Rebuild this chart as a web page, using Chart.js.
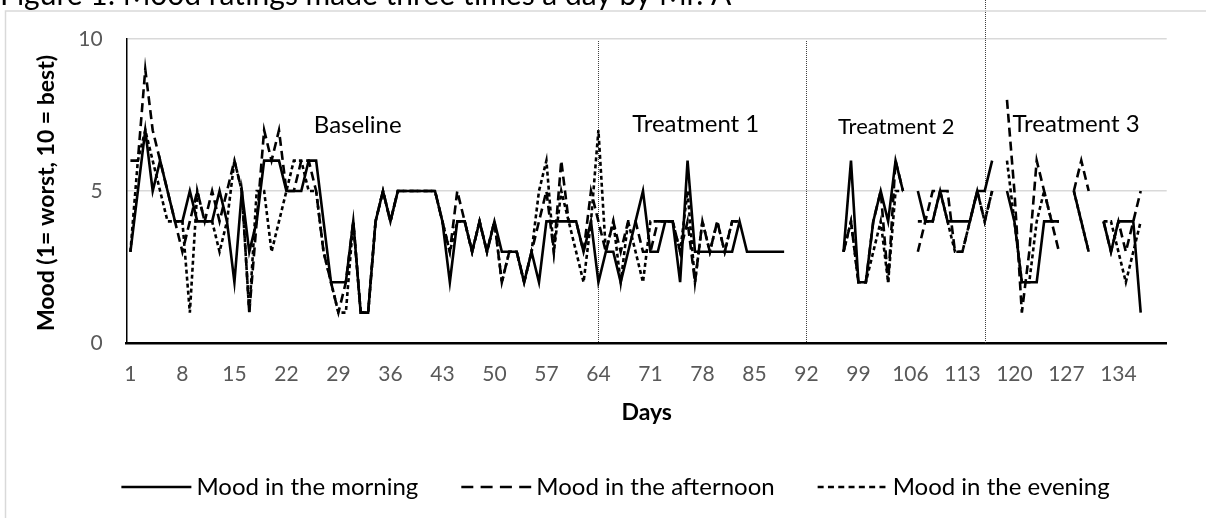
<!DOCTYPE html>
<html>
<head>
<meta charset="utf-8">
<script src="https://cdn.jsdelivr.net/npm/chart.js@4.4.1/dist/chart.umd.min.js"></script>
<style>
  html, body { margin: 0; padding: 0; background: #fff; }
  #wrap { width: 1206px; height: 518px; position: relative; }
</style>
</head>
<body>
<div id="wrap"><canvas id="c" width="1206" height="518"></canvas></div>
<script>
// Day numbers on the category axis (days 1-140)
const days = [];
for (let d = 1; d <= 140; d++) days.push(String(d));

// Days that carry a tick label
const tickDays = [1, 8, 15, 22, 29, 36, 43, 50, 57, 64, 71, 78, 85, 92, 99, 106, 113, 120, 127, 134];

// Days on which a new phase starts (dotted separators)
const phaseStarts = [64, 92, 116];
const phaseNames = ['Baseline', 'Treatment 1', 'Treatment 2', 'Treatment 3'];

// Mood ratings (1 = worst, 10 = best); null = not rated
const moodMorning = [
  3, 5, 7, 5, 6, 5, 4, 4, 5, 4,      // 1-10
  4, 4, 5, 4, 2, 5, 3, 4, 6, 6,      // 11-20
  6, 5, 5, 5, 6, 6, 4, 2, 2, 2,      // 21-30
  4, 1, 1, 4, 5, 4, 5, 5, 5, 5,      // 31-40
  5, 5, 4, 2, 4, 4, 3, 4, 3, 4,      // 41-50
  3, 3, 3, 2, 3, 2, 4, 4, 4, 4,      // 51-60
  4, 3, 4, 2, 3, 3, 2, 3, 4, 5,      // 61-70
  3, 3, 4, 4, 2, 6, 3, 3, 3, 3,      // 71-80
  3, 3, 4, 3, 3, 3, 3, 3, 3, null,   // 81-90
  null, null, null, null, null, null, 3, 6, 2, 2,   // 91-100
  4, 5, 4, 6, 5, null, 5, 4, 4, 5,   // 101-110
  4, 4, 4, 4, 5, 5, 6, null, 5, 4,   // 111-120
  2, 2, 2, 4, 4, 4, null, 5, 4, 3,   // 121-130
  null, 4, 3, 4, 4, 4, 1, null, null, null  // 131-140
];

const moodAfternoon = [
  6, 6, 9, 7, 6, 5, 4, 3, 4, 5,
  4, 5, 4, 5, 6, 5, 1, 4, 7, 6,
  7, 5, 5, 6, 6, 5, 3, 2, 1, 2,
  4, 1, 1, 4, 5, 4, 5, 5, 5, 5,
  5, 5, 4, 3, 5, 4, 3, 4, 3, 4,
  2, 3, 3, 2, 3, 4, 5, 3, 6, 4,
  4, 3, 5, 4, 3, 4, 3, 4, 4, 3,
  3, 4, 4, 4, 3, 4, 2, 4, 3, 4,
  3, 4, 4, null, null, null, null, null, null, null,
  null, null, null, null, null, null, 3, 4, 2, 2,
  4, 5, 2, 6, 5, null, 3, 4, 5, 5,
  5, 3, 3, 4, 5, 4, 5, null, 8, 5,
  1, 3, 6, 5, 4, 3, null, 5, 6, 5,
  null, 4, 3, 4, 3, 4, 5, null, null, null
];

const moodEvening = [
  3, 6, 7, 6, 5, 4, 4, 4, 1, 5,
  4, 4, 3, 4, 6, 5, 1, 5, 5, 3,
  4, 5, 6, 6, 5, 5, 3, 2, 1, 1,
  4, 1, 1, 4, 5, 4, 5, 5, 5, 5,
  5, 5, 4, 3, 4, 4, 3, 4, 3, 4,
  2, 3, 3, 2, 3, 5, 6, 3, 5, 4,
  3, 2, 4, 7, 3, 4, 2, 4, 3, 2,
  4, 4, 4, 4, 3, 5, 2, 4, 3, 4,
  3, 4, 4, null, null, null, null, null, null, null,
  null, null, null, null, null, null, 3, 4, 2, 2,
  3, 4, 2, 5, 5, null, 4, 4, 4, 5,
  4, 3, 3, 4, 5, 4, 5, null, 6, 4,
  2, 2, 4, 5, 4, 4, null, 5, 4, 3,
  null, 4, 4, 3, 2, 3, 4, null, null, null
];

const seriesLabels = ['Mood in the morning', 'Mood in the afternoon', 'Mood in the evening'];

const FONT = 'Lato, "Open Sans", sans-serif';
const TICK_GREY = '#595959';

// Where the phase captions sit, in (day, mood) coordinates
const phaseCaptionAt = [
  { day: 31.6, mood: 6.9, size: 24 },
  { day: 77.1, mood: 6.95, size: 24 },
  { day: 104.1, mood: 6.88, size: 22 },
  { day: 128.3, mood: 6.95, size: 24 }
];

const decorations = {
  id: 'decorations',
  beforeDatasetsDraw(chart) {
    const { ctx, chartArea, scales: { x } } = chart;
    ctx.save();
    ctx.strokeStyle = '#404040';
    ctx.lineWidth = 1;
    ctx.setLineDash([1, 1]);
    phaseStarts.forEach((d, i) => {
      const px = Math.round(x.getPixelForValue(d - 1)) + 0.5;
      // the last separator runs up through the top margin
      const top = i === phaseStarts.length - 1 ? 0 : chartArea.top + 2;
      ctx.beginPath();
      ctx.moveTo(px, top);
      ctx.lineTo(px, chartArea.bottom);
      ctx.stroke();
    });
    ctx.restore();
  },
  afterDraw(chart) {
    const { ctx, chartArea, scales: { x, y } } = chart;
    ctx.save();

    // outer frame (top and left edges)
    ctx.strokeStyle = '#d9d9d9';
    ctx.lineWidth = 1.5;
    ctx.beginPath();
    ctx.moveTo(5.5, 518);
    ctx.lineTo(5.5, 11);
    ctx.lineTo(1206, 11);
    ctx.stroke();

    // figure caption
    ctx.fillStyle = '#000';
    ctx.font = '30px ' + FONT;
    ctx.textAlign = 'left';
    ctx.textBaseline = 'alphabetic';
    ctx.fillText('Figure 1: Mood ratings made three times a day by Mr. A', 0, 5);

    // phase captions
    phaseNames.forEach((name, i) => {
      const a = phaseCaptionAt[i];
      const px = x.getPixelForValue(a.day - 1);
      const py = y.getPixelForValue(a.mood);
      ctx.font = a.size + 'px ' + FONT;
      ctx.fillStyle = '#000';
      ctx.textAlign = 'center';
      ctx.textBaseline = 'alphabetic';
      ctx.fillText(name, px, py);
    });

    // axis titles
    ctx.fillStyle = '#000';
    ctx.font = 'bold 23px ' + FONT;
    ctx.textAlign = 'center';
    ctx.textBaseline = 'middle';
    ctx.fillText('Days', (chartArea.left + chartArea.right) / 2, 413);
    ctx.save();
    ctx.translate(47, (chartArea.top + chartArea.bottom) / 2 + 2);
    ctx.rotate(-Math.PI / 2);
    ctx.fillText('Mood (1= worst, 10 = best)', 0, 0);
    ctx.restore();

    // legend, centred under the frame
    const legendY = 487;
    const sampleLen = 70, textGap = 5, itemGap = 43;
    ctx.font = '24px ' + FONT;
    const widths = chart.data.datasets.map(ds => ctx.measureText(ds.label).width);
    const total = widths.reduce((s, w) => s + w, 0) + 3 * (sampleLen + textGap) + 2 * itemGap;
    let lx = 615.5 - total / 2;
    chart.data.datasets.forEach((ds, i) => {
      ctx.strokeStyle = '#000';
      ctx.lineWidth = 2.5;
      ctx.setLineDash(ds.borderDash ? (i === 1 ? [12, 7.3] : [6, 4.3]) : []);
      ctx.beginPath();
      ctx.moveTo(lx, legendY);
      ctx.lineTo(lx + sampleLen, legendY);
      ctx.stroke();
      ctx.setLineDash([]);
      lx += sampleLen + textGap;
      ctx.fillStyle = '#000';
      ctx.textAlign = 'left';
      ctx.textBaseline = 'middle';
      ctx.fillText(ds.label, lx, legendY);
      lx += widths[i] + itemGap;
    });
    ctx.restore();
  }
};

new Chart(document.getElementById('c'), {
  type: 'line',
  data: {
    labels: days,
    datasets: [
      { label: seriesLabels[0], data: moodMorning, borderColor: '#000', borderWidth: 2.6, pointRadius: 0, tension: 0 },
      { label: seriesLabels[1], data: moodAfternoon, borderColor: '#000', borderWidth: 2.6, borderDash: [9, 5], pointRadius: 0, tension: 0 },
      { label: seriesLabels[2], data: moodEvening, borderColor: '#000', borderWidth: 2.6, borderDash: [4, 3], pointRadius: 0, tension: 0 }
    ]
  },
  options: {
    responsive: false,
    animation: false,
    devicePixelRatio: 1,
    layout: { padding: { top: 39, right: 39.3, bottom: 0, left: 0 } },
    plugins: { legend: { display: false }, title: { display: false }, tooltip: { enabled: false } },
    scales: {
      x: {
        type: 'category',
        offset: true,
        grid: { display: false, drawTicks: false },
        border: { display: true, color: '#000', width: 2.5 },
        ticks: {
          autoSkip: false, maxRotation: 0, minRotation: 0, padding: 19,
          color: TICK_GREY, font: { family: FONT, size: 21 },
          callback(v, i) { return tickDays.includes(Number(days[i])) ? days[i] : ''; }
        },
        afterFit(s) { s.height = 175; }
      },
      y: {
        min: 0, max: 10,
        ticks: { stepSize: 5, padding: 24, color: TICK_GREY, font: { family: FONT, size: 21 } },
        grid: { color: '#d9d9d9', lineWidth: 1.5, drawTicks: false },
        border: { display: true, color: '#000', width: 1.5 },
        afterFit(s) { s.width = 126.7; }
      }
    }
  },
  plugins: [decorations]
});
</script>
</body>
</html>
